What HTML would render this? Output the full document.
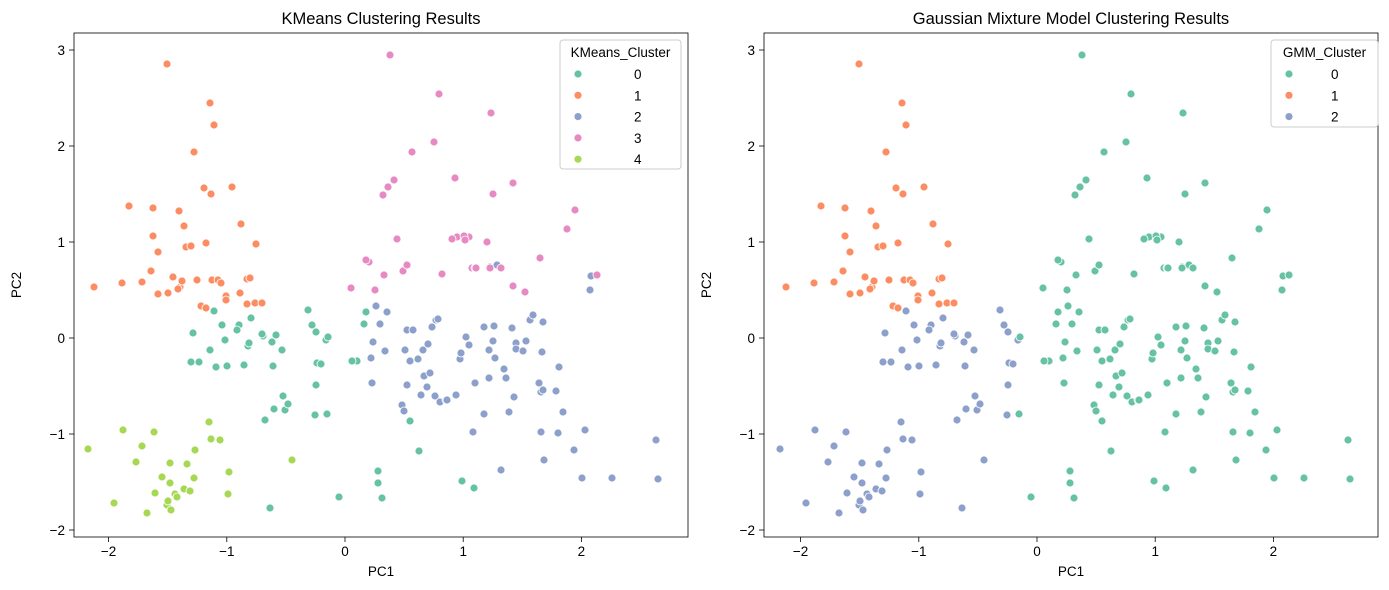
<!DOCTYPE html>
<html><head><meta charset="utf-8"><style>
body{margin:0;background:#fff;}
svg{display:block;font-family:"Liberation Sans","DejaVu Sans",sans-serif;}
</style></head><body>
<svg id="s" width="1389" height="590" xmlns="http://www.w3.org/2000/svg"></svg>
<script>
const C=["#66c2a5","#fc8d62","#8da0cb","#e78ac3","#a6d854"];
const P={
1:[[167,64],[210,103],[214,125],[194,152],[204,188],[232,187],[129,206],[153,208],[179,211],[211,194],[153,236],[184,226],[206,243],[241,224],[256,244],[158,252],[186,247],[191,246],[151,271],[122,283],[142,282],[173,277],[180,287],[182,281],[197,280],[212,280],[218,280],[221,283],[247,279],[250,278],[94,287],[158,294],[178,289],[168,293],[201,306],[206,308],[226,296],[226,300],[240,293],[247,304],[255,303],[262,303]],
0:[[193,333],[214,311],[222,325],[239,325],[251,318],[225,340],[237,330],[210,350],[248,346],[249,343],[263,336],[272,342],[276,335],[282,350],[262,334],[244,365],[227,366],[216,367],[191,362],[199,362],[273,366],[283,396],[265,420],[274,409],[285,410],[288,404],[308,310],[312,325],[316,332],[326,340],[317,363],[321,364],[316,385],[315,415],[327,414],[339,497],[328,337],[364,324],[366,312],[357,361],[378,471],[378,483],[382,498],[410,421],[419,451],[462,481],[474,488],[270,508],[352,361]],
2:[[373,342],[376,306],[380,324],[371,358],[372,383],[387,312],[385,351],[410,361],[407,330],[413,330],[405,350],[402,405],[404,411],[407,385],[418,359],[423,350],[428,344],[424,376],[421,395],[427,387],[430,373],[432,327],[436,320],[438,319],[435,396],[440,402],[446,400],[447,400],[460,359],[461,353],[466,337],[456,395],[469,345],[475,383],[473,432],[484,327],[489,378],[494,326],[489,350],[484,414],[493,341],[490,267],[497,265],[495,358],[506,378],[512,328],[509,412],[516,343],[504,369],[501,470],[514,397],[516,349],[523,351],[526,341],[530,320],[533,315],[539,383],[541,392],[543,390],[543,322],[544,460],[542,352],[556,391],[563,412],[558,433],[541,432],[574,450],[585,430],[591,276],[559,367],[590,290],[612,478],[658,479],[656,440],[582,478]],
3:[[390,55],[439,94],[434,142],[412,152],[388,187],[383,195],[394,180],[369,262],[375,290],[384,275],[403,271],[397,239],[351,288],[366,260],[407,265],[455,178],[491,113],[493,194],[513,183],[457,237],[469,237],[464,236],[452,239],[465,240],[487,242],[472,268],[475,268],[476,268],[490,268],[501,268],[513,286],[525,292],[540,258],[567,229],[575,210],[597,275],[442,274]],
4:[[88,449],[114,503],[123,430],[136,462],[142,446],[154,432],[170,463],[187,464],[184,489],[170,483],[194,478],[195,450],[209,422],[211,439],[220,440],[229,472],[228,494],[155,493],[167,505],[175,494],[177,497],[171,510],[147,513],[168,501],[292,460],[162,477],[190,491]]};
let h='';
function ax(ox,title,xs0){
 h+=`<rect x="${ox}" y="33" width="614" height="504" fill="none" stroke="#000" stroke-width="0.8"/>`;
 h+=`<text x="${ox+307}" y="24" font-size="16.5" text-anchor="middle">${title}</text>`;
 for(let i=-2;i<=2;i++){const x=xs0+i*118.2;h+=`<line x1="${x}" y1="537" x2="${x}" y2="542" stroke="#000" stroke-width="0.8"/><text x="${x}" y="556" font-size="13.5" text-anchor="middle">${i<0?'−'+(-i):i}</text>`;}
 for(let j=-2;j<=3;j++){const y=338-j*96;h+=`<line x1="${ox-5}" y1="${y}" x2="${ox}" y2="${y}" stroke="#000" stroke-width="0.8"/><text x="${ox-9}" y="${y+5}" font-size="13.5" text-anchor="end">${j<0?'−'+(-j):j}</text>`;}
 h+=`<text x="${ox+307}" y="576" font-size="13.5" text-anchor="middle">PC1</text>`;
 h+=`<text transform="translate(${ox-53},285) rotate(-90)" font-size="13.5" text-anchor="middle">PC2</text>`;
}
ax(74,"KMeans Clustering Results",345);
ax(764,"Gaussian Mixture Model Clustering Results",1037);
function dot(x,y,c){h+=`<circle cx="${x}" cy="${y}" r="4" fill="${c}" stroke="#fff" stroke-width="0.8"/>`;}
for(const k in P){for(const [x,y] of P[k]){
 dot(x,y,C[k]);
 let g; if(k==1)g=1;else if(k==4)g=2;else if(k==0)g=(x<327?2:0);else g=0;
 dot(x+692,y,C[g]);
}}
function leg(x,y,w,hh,title,n){
 h+=`<rect x="${x}" y="${y}" width="${w}" height="${hh}" rx="3" fill="#fff" fill-opacity="0.8" stroke="#ccc"/>`;
 h+=`<text x="${x+w/2}" y="${y+17}" font-size="13.5" text-anchor="middle">${title}</text>`;
 for(let i=0;i<n;i++){const yy=y+34+i*21.3;dot(x+18,yy,C[i]);h+=`<text x="${x+w-47}" y="${yy+5}" font-size="13.5">${i}</text>`;}
}
leg(560,40,121,129,"KMeans_Cluster",5);
leg(1271,40,107,87,"GMM_Cluster",3);
document.getElementById('s').innerHTML=h;
</script>
</body></html>
